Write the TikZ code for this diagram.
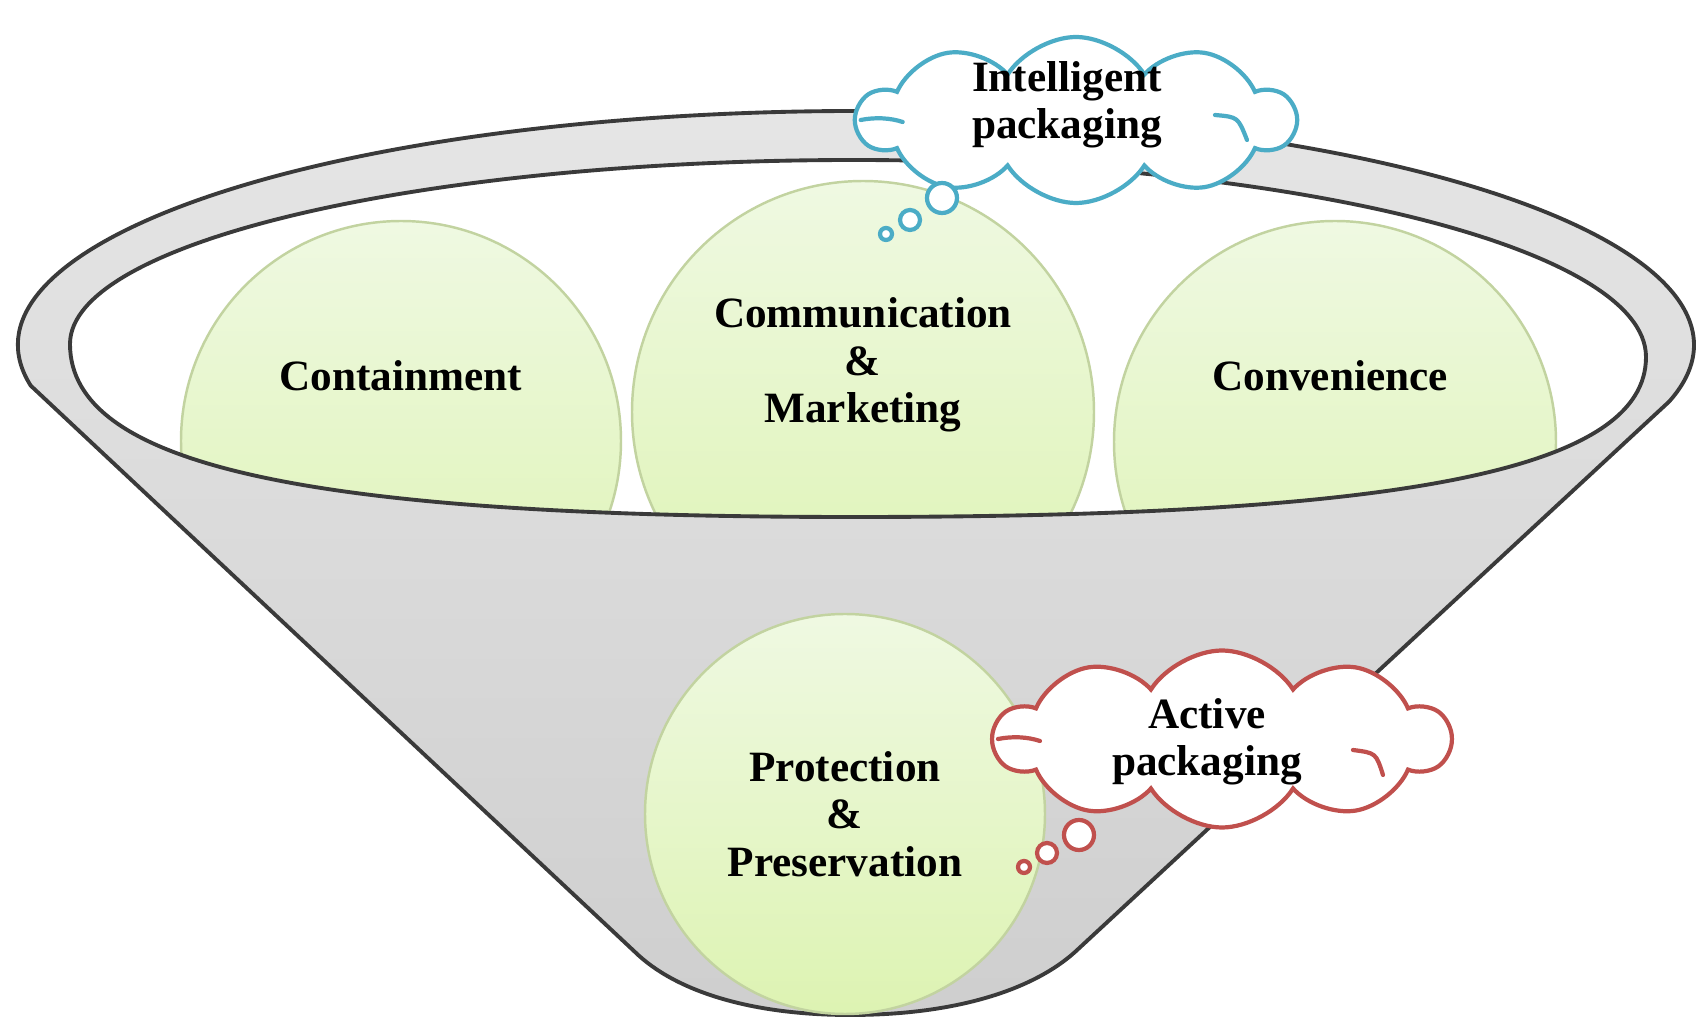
\documentclass[tikz,border=0pt]{standalone}
\usepackage{fontspec}
\setmainfont{Liberation Serif}
\usetikzlibrary{shapes.symbols}

\definecolor{rimline}{HTML}{3A3A3A}
\definecolor{balltop}{HTML}{EFF9E2}
\definecolor{ballbot}{HTML}{DDF3B2}
\definecolor{ballline}{HTML}{C2D3A0}
\definecolor{cloudblue}{HTML}{4BACC6}
\definecolor{cloudred}{HTML}{C0504D}

\newcommand{\bowlrim}{(0.70,6.83) .. controls (0.70,7.85) and (4.21,8.67) .. (8.54,8.67) .. controls (12.91,8.67) and (16.46,7.79) .. (16.46,6.70) .. controls (16.46,5.58) and (14.08,5.10) .. (8.54,5.10) .. controls (3.05,5.10) and (0.70,5.62) .. (0.70,6.83) -- cycle}

\begin{document}
\begin{tikzpicture}[
		funnel/.style={draw=rimline, line width=1.1pt},
		ball/.style={circle, draw=ballline, line width=0.7pt, top color=balltop, bottom color=ballbot, minimum size=#1, inner sep=0pt},
		lbl/.style={align=center, font=\fontsize{12.3}{13.5}\selectfont\bfseries},
		thought/.style={cloud, cloud puffs=10, cloud puff arc=115, shape border rotate=18, cloud ignores aspect, draw=#1, line width=1.2pt, fill=white, inner sep=0pt},
		puffline/.style={draw=#1, line width=1.2pt, line cap=round},
		pip/.style={circle, draw=#1, line width=1.2pt, fill=white, inner sep=0pt}
	]
	\useasboundingbox (0,0) rectangle (16.96,10.27);

	\path[funnel, top color=gray!20, bottom color=gray!38]
		(8.56,6.82) ++(190:8.38 and 2.34) arc[start angle=190, end angle=-14, x radius=8.38, y radius=2.34]
		-- (10.75,0.75) .. controls (10.35,0.39) and (9.6,0.12) .. (8.5,0.12)
		.. controls (7.5,0.12) and (6.75,0.36) .. (6.35,0.75) -- cycle;
	\fill[white] \bowlrim;

	\begin{scope}
		\clip \bowlrim;
		\node[ball=4.4cm] (cont) at (4.01,5.86) {};
		\node[ball=4.62cm] (comm) at (8.63,6.15) {};
		\node[ball=4.42cm] (conv) at (13.35,5.85) {};
	\end{scope}
	\draw[funnel] \bowlrim;

	\node[lbl] (contl) at ([yshift=0.65cm]cont.center) {Containment};
	\node[lbl] (comml) at ([yshift=0.47cm]comm.center) {Communication\\\&\\Marketing};
	\node[lbl] (convl) at ([xshift=-0.05cm, yshift=0.66cm]conv.center) {Convenience};

	\node[ball=4cm, lbl] (prot) at (8.45,2.13) {Protection\\\&\\Preservation};

	\node[thought=cloudblue, minimum width=4.37cm, minimum height=1.66cm] (intel) at (10.76,9.07) {};
	\draw[puffline=cloudblue] (intel.west) ++(0.08,0) .. controls +(0.15,0.03) and +(-0.12,0.04) .. +(0.42,-0.02);
	\draw[puffline=cloudblue] (12.15,9.12) .. controls (12.38,9.10) .. (12.47,8.87);
	\node[lbl] (intell) at (10.67,9.22) {Intelligent\\packaging};
	\node[pip=cloudblue, minimum size=0.30cm] (intel1) at (9.42,8.29) {};
	\node[pip=cloudblue, minimum size=0.20cm] (intel2) at (9.10,8.07) {};
	\node[pip=cloudblue, minimum size=0.12cm] (intel3) at (8.86,7.93) {};

	\node[thought=cloudred, minimum width=4.55cm, minimum height=1.77cm] (act) at (12.22,2.88) {};
	\draw[puffline=cloudred] (act.west) ++(0.08,0) .. controls +(0.15,0.03) and +(-0.12,0.04) .. +(0.42,-0.02);
	\draw[puffline=cloudred] (13.53,2.77) .. controls (13.76,2.74) .. (13.83,2.52);
	\node[lbl] (actl) at (12.07,2.85) {Active\\packaging};
	\node[pip=cloudred, minimum size=0.30cm] (act1) at (10.79,1.92) {};
	\node[pip=cloudred, minimum size=0.20cm] (act2) at (10.47,1.74) {};
	\node[pip=cloudred, minimum size=0.12cm] (act3) at (10.24,1.60) {};
\end{tikzpicture}
\end{document}
